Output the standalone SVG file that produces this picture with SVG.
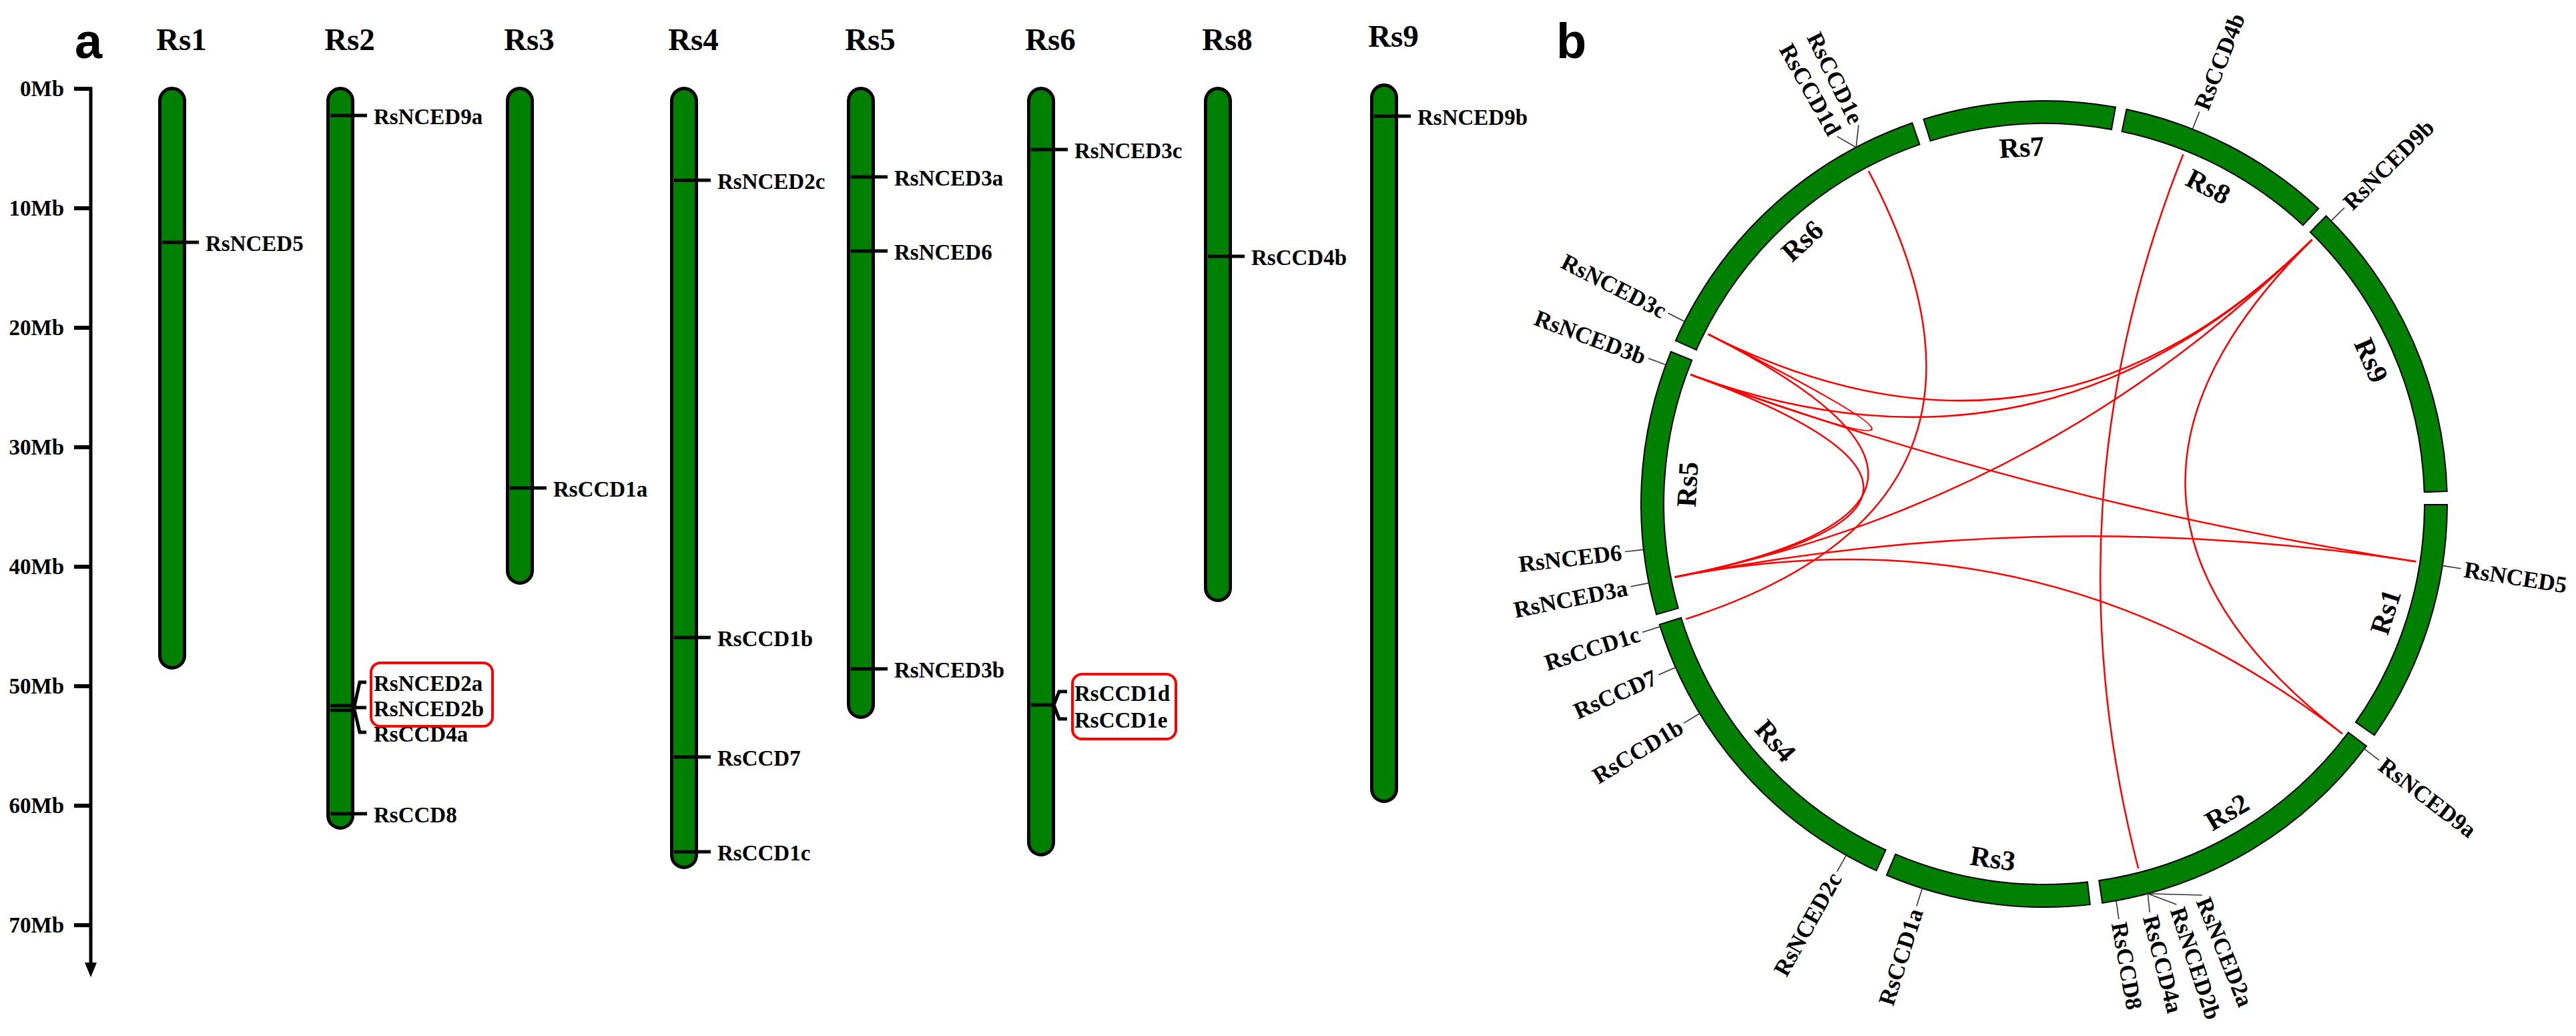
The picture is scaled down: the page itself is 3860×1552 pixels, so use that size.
<svg xmlns="http://www.w3.org/2000/svg" width="3860" height="1552" viewBox="0 0 3860 1552">
<style>
.bg{fill:#fff}
.chr{fill:#008000;stroke:#000;stroke-width:5}
.tick{stroke:#000;stroke-width:5;fill:none}
.t{font-family:'Liberation Serif','Times New Roman',serif;font-weight:bold;fill:#000}
.g{font-size:33px}
.ax{font-size:33px;text-anchor:end}
.cl{font-size:47px;text-anchor:middle}
.box{fill:none;stroke:#FF0000;stroke-width:4}
.panel{font-family:'Liberation Sans',Arial,sans-serif;font-weight:bold;font-size:74px;fill:#000}
.seg{fill:#008000;stroke:#000;stroke-width:2}
.link{fill:none;stroke:#FF0000;stroke-width:2.5}
.lead{stroke:#333;stroke-width:1.6;fill:none}
.cg{font-size:35px}
.rl{font-size:42px;text-anchor:middle}
</style>
<rect class="bg" x="0" y="0" width="3860" height="1552"/>
<text class="panel" x="112" y="87">a</text>
<text class="panel" x="2332" y="87">b</text>

<g id="axis">
<line class="tick" x1="136" y1="131" x2="136" y2="1448"/>
<polygon points="127,1442 145,1442 136,1464" fill="#000"/>
<g stroke="#000" stroke-width="6">
<line x1="111" y1="133" x2="138" y2="133"/>
<line x1="111" y1="312" x2="136" y2="312"/>
<line x1="111" y1="491" x2="136" y2="491"/>
<line x1="111" y1="670" x2="136" y2="670"/>
<line x1="111" y1="849" x2="136" y2="849"/>
<line x1="111" y1="1028" x2="136" y2="1028"/>
<line x1="111" y1="1207" x2="136" y2="1207"/>
<line x1="111" y1="1386" x2="136" y2="1386"/>
</g>
<text class="t ax" x="96" y="144">0Mb</text>
<text class="t ax" x="96" y="323">10Mb</text>
<text class="t ax" x="96" y="502">20Mb</text>
<text class="t ax" x="96" y="681">30Mb</text>
<text class="t ax" x="96" y="860">40Mb</text>
<text class="t ax" x="96" y="1039">50Mb</text>
<text class="t ax" x="96" y="1218">60Mb</text>
<text class="t ax" x="96" y="1397">70Mb</text>
</g>

<g id="chrA-Rs1">
<text class="t cl" x="272" y="75">Rs1</text>
<rect class="chr" x="239.5" y="132.5" width="37" height="868" rx="18.5"/>
<line class="tick" x1="243" y1="363" x2="298" y2="363"/>
<text class="t g" x="308" y="376">RsNCED5</text>
</g>

<g id="chrA-Rs2">
<text class="t cl" x="524" y="75">Rs2</text>
<rect class="chr" x="491.5" y="132.5" width="37" height="1108" rx="18.5"/>
<line class="tick" x1="495" y1="173" x2="550" y2="173"/>
<text class="t g" x="560" y="186">RsNCED9a</text>
<line class="tick" x1="495" y1="1057" x2="531" y2="1057" stroke-width="4"/>
<line class="tick" x1="495" y1="1064" x2="531" y2="1064" stroke-width="4"/>
<path class="tick" stroke-width="4" d="M531,1058 L539,1022 L549,1022 M531,1060 L549,1060 M531,1063 L539,1097 L549,1097"/>
<text class="t g" x="560" y="1035">RsNCED2a</text>
<text class="t g" x="560" y="1073">RsNCED2b</text>
<text class="t g" x="560" y="1111">RsCCD4a</text>
<rect class="box" x="556" y="993" width="182" height="95" rx="14"/>
<line class="tick" x1="495" y1="1219" x2="550" y2="1219"/>
<text class="t g" x="560" y="1232">RsCCD8</text>
</g>

<g id="chrA-Rs3">
<text class="t cl" x="793" y="75">Rs3</text>
<rect class="chr" x="760.5" y="132.5" width="37" height="741" rx="18.5"/>
<line class="tick" x1="764" y1="731" x2="819" y2="731"/>
<text class="t g" x="829" y="744">RsCCD1a</text>
</g>

<g id="chrA-Rs4">
<text class="t cl" x="1039" y="75">Rs4</text>
<rect class="chr" x="1006.5" y="132.5" width="37" height="1167" rx="18.5"/>
<line class="tick" x1="1010" y1="270" x2="1065" y2="270"/>
<text class="t g" x="1075" y="283">RsNCED2c</text>
<line class="tick" x1="1010" y1="955" x2="1065" y2="955"/>
<text class="t g" x="1075" y="968">RsCCD1b</text>
<line class="tick" x1="1010" y1="1134" x2="1065" y2="1134"/>
<text class="t g" x="1075" y="1147">RsCCD7</text>
<line class="tick" x1="1010" y1="1276" x2="1065" y2="1276"/>
<text class="t g" x="1075" y="1289">RsCCD1c</text>
</g>

<g id="chrA-Rs5">
<text class="t cl" x="1304" y="75">Rs5</text>
<rect class="chr" x="1271.5" y="132.5" width="37" height="942" rx="18.5"/>
<line class="tick" x1="1275" y1="265" x2="1330" y2="265"/>
<text class="t g" x="1340" y="278">RsNCED3a</text>
<line class="tick" x1="1275" y1="376" x2="1330" y2="376"/>
<text class="t g" x="1340" y="389">RsNCED6</text>
<line class="tick" x1="1275" y1="1002" x2="1330" y2="1002"/>
<text class="t g" x="1340" y="1015">RsNCED3b</text>
</g>

<g id="chrA-Rs6">
<text class="t cl" x="1574" y="75">Rs6</text>
<rect class="chr" x="1541.5" y="132.5" width="37" height="1148" rx="18.5"/>
<line class="tick" x1="1545" y1="224" x2="1600" y2="224"/>
<text class="t g" x="1610" y="237">RsNCED3c</text>
<line class="tick" x1="1545" y1="1056" x2="1580" y2="1056" stroke-width="4"/>
<path class="tick" stroke-width="4" d="M1579,1056 L1587,1036 L1599,1036 M1579,1056 L1587,1077 L1599,1077"/>
<text class="t g" x="1610" y="1050">RsCCD1d</text>
<text class="t g" x="1610" y="1090">RsCCD1e</text>
<rect class="box" x="1607" y="1010" width="155" height="97" rx="14"/>
</g>

<g id="chrA-Rs8">
<text class="t cl" x="1839" y="75">Rs8</text>
<rect class="chr" x="1806.5" y="132.5" width="37" height="767" rx="18.5"/>
<line class="tick" x1="1810" y1="384" x2="1865" y2="384"/>
<text class="t g" x="1875" y="397">RsCCD4b</text>
</g>

<g id="chrA-Rs9">
<text class="t cl" x="2088" y="70">Rs9</text>
<rect class="chr" x="2055.5" y="127.5" width="37" height="1073" rx="18.5"/>
<line class="tick" x1="2059" y1="174" x2="2114" y2="174"/>
<text class="t g" x="2124" y="187">RsNCED9b</text>
</g>

<g id="connectors">
<path class="link" d="M2559.58,500.70 Q3063,755 3464.58,358.99"/>
<path class="link" d="M2533.35,561.18 Q3063,755 3464.58,358.99"/>
<path class="link" d="M2509.74,864.55 Q3063,755 3464.58,358.99"/>
<path class="link" d="M3509.85,1099.12 Q3063,755 3464.58,358.99"/>
<path class="link" d="M2559.58,500.70 Q3063,755 2533.35,561.18"/>
<path class="link" d="M2559.58,500.70 Q3063,755 2509.74,864.55"/>
<path class="link" d="M2533.35,561.18 Q3063,755 2509.74,864.55"/>
<path class="link" d="M2533.35,561.18 Q3063,755 3620.36,841.28"/>
<path class="link" d="M2509.74,864.55 Q3063,755 3620.36,841.28"/>
<path class="link" d="M2509.74,864.55 Q3063,755 3509.85,1099.12"/>
<path class="link" stroke-width="2" d="M2799.96,256.10 Q3063,755 2526.00,927.41"/>
<path class="link" stroke-width="1.5" d="M3271.54,230.97 Q3063,755 3204.21,1301.04"/>
</g>

<g id="chrB-Rs1">
<path class="seg" d="M3667.00,756.05 A604,604 0 0 1 3557.77,1101.44 L3529.92,1081.94 A570,570 0 0 0 3633.00,756.00 Z"/>
<text class="t rl" transform="translate(3574.04,916.67) rotate(-72.45)" dy="0.35em">Rs1</text>
</g>
<g id="chrB-Rs2">
<path class="seg" d="M3546.01,1117.65 A604,604 0 0 1 3150.19,1352.67 L3145.28,1319.03 A570,570 0 0 0 3518.82,1097.24 Z"/>
<text class="t rl" transform="translate(3336.65,1215.88) rotate(-30.7)" dy="0.35em">Rs2</text>
</g>
<g id="chrB-Rs3">
<path class="seg" d="M3131.90,1355.06 A604,604 0 0 1 2827.00,1310.99 L2840.28,1279.69 A570,570 0 0 0 3128.02,1321.28 Z"/>
<text class="t rl" transform="translate(2986.32,1285.49) rotate(8.2)" dy="0.35em">Rs3</text>
</g>
<g id="chrB-Rs4">
<path class="seg" d="M2811.57,1304.18 A604,604 0 0 1 2486.64,935.62 L2519.08,925.45 A570,570 0 0 0 2825.72,1273.26 Z"/>
<text class="t rl" transform="translate(2660.94,1109.46) rotate(48.6)" dy="0.35em">Rs4</text>
</g>
<g id="chrB-Rs5">
<path class="seg" d="M2482.11,920.47 A604,604 0 0 1 2503.77,526.78 L2535.25,539.63 A570,570 0 0 0 2514.81,911.16 Z"/>
<text class="t rl" transform="translate(2527.81,725.55) rotate(-86.85)" dy="0.35em">Rs5</text>
</g>
<g id="chrB-Rs6">
<path class="seg" d="M2510.79,510.29 A604,604 0 0 1 2865.36,184.25 L2876.49,216.38 A570,570 0 0 0 2541.88,524.07 Z"/>
<text class="t rl" transform="translate(2700.19,360.45) rotate(-42.6)" dy="0.35em">Rs6</text>
</g>
<g id="chrB-Rs7">
<path class="seg" d="M2882.38,178.64 A604,604 0 0 1 3169.96,160.55 L3163.94,194.01 A570,570 0 0 0 2892.55,211.08 Z"/>
<text class="t rl" transform="translate(3029.34,220.06) rotate(-3.6)" dy="0.35em">Rs7</text>
</g>
<g id="chrB-Rs8">
<path class="seg" d="M3186.52,163.76 A604,604 0 0 1 3474.16,312.54 L3451.01,337.45 A570,570 0 0 0 3179.56,197.05 Z"/>
<text class="t rl" transform="translate(3309.25,278.92) rotate(27.35)" dy="0.35em">Rs8</text>
</g>
<g id="chrB-Rs9">
<path class="seg" d="M3485.60,323.46 A604,604 0 0 1 3666.70,736.03 L3632.72,737.10 A570,570 0 0 0 3461.81,347.75 Z"/>
<text class="t rl" transform="translate(3553.80,539.56) rotate(66.3)" dy="0.35em">Rs9</text>
</g>

<g id="geneLabelsB">
<path class="lead" d="M3285.35,193.42 L3295.66,167.38"/>
<text class="t cg" transform="translate(3297.50,162.73) rotate(-68.4)" dy="0.35em">RsCCD4b</text>
<path class="lead" d="M3493.06,330.90 L3513.00,311.24"/>
<text class="t cg" transform="translate(3516.56,307.73) rotate(-44.6)" dy="0.35em">RsNCED9b</text>
<path class="lead" d="M3659.89,847.40 L3687.56,851.69"/>
<text class="t cg" transform="translate(3692.50,852.45) rotate(8.8)" dy="0.35em">RsNCED5</text>
<path class="lead" d="M3542.83,1121.85 L3565.07,1138.86"/>
<text class="t cg" transform="translate(3569.04,1141.90) rotate(37.4)" dy="0.35em">RsNCED9a</text>
<path class="lead" d="M3218.31,1338.69 L3299.75,1340.98 M3218.31,1338.69 L3261.44,1355.04 M3218.31,1338.69 L3221.24,1366.87"/>
<text class="t cg" transform="translate(3301.62,1345.62) rotate(68.0)" dy="0.35em">RsNCED2a</text>
<text class="t cg" transform="translate(3263.01,1359.78) rotate(71.7)" dy="0.35em">RsNCED2b</text>
<text class="t cg" transform="translate(3222.49,1371.71) rotate(75.5)" dy="0.35em">RsCCD4a</text>
<path class="lead" d="M3171.00,1349.27 L3174.92,1377.01"/>
<text class="t cg" transform="translate(3175.80,1381.93) rotate(79.8)" dy="0.35em">RsCCD8</text>
<path class="lead" d="M2880.37,1330.73 L2871.90,1357.42"/>
<text class="t cg" text-anchor="end" transform="translate(2870.39,1362.18) rotate(-72.4)" dy="0.35em">RsCCD1a</text>
<path class="lead" d="M2766.49,1281.21 L2752.75,1305.61"/>
<text class="t cg" text-anchor="end" transform="translate(2750.29,1309.96) rotate(-60.6)" dy="0.35em">RsNCED2c</text>
<path class="lead" d="M2546.91,1068.79 L2522.98,1083.34"/>
<text class="t cg" text-anchor="end" transform="translate(2518.71,1085.93) rotate(-31.3)" dy="0.35em">RsCCD1b</text>
<path class="lead" d="M2510.79,999.71 L2485.19,1011.05"/>
<text class="t cg" text-anchor="end" transform="translate(2480.62,1013.08) rotate(-23.9)" dy="0.35em">RsCCD7</text>
<path class="lead" d="M2487.59,938.64 L2460.92,947.15"/>
<text class="t cg" text-anchor="end" transform="translate(2456.16,948.67) rotate(-17.7)" dy="0.35em">RsCCD1c</text>
<path class="lead" d="M2470.71,873.35 L2443.25,878.84"/>
<text class="t cg" text-anchor="end" transform="translate(2438.35,879.82) rotate(-11.3)" dy="0.35em">RsNCED3a</text>
<path class="lead" d="M2462.88,823.37 L2435.06,826.54"/>
<text class="t cg" text-anchor="end" transform="translate(2430.09,827.11) rotate(-6.5)" dy="0.35em">RsNCED6</text>
<path class="lead" d="M2496.15,546.44 L2469.87,536.77"/>
<text class="t cg" text-anchor="end" transform="translate(2465.18,535.04) rotate(20.2)" dy="0.35em">RsNCED3b</text>
<path class="lead" d="M2524.35,481.73 L2499.38,469.06"/>
<text class="t cg" text-anchor="end" transform="translate(2494.92,466.80) rotate(26.9)" dy="0.35em">RsNCED3c</text>
<path class="lead" d="M2781.30,220.71 L2752.75,204.39 M2781.30,220.71 L2784.96,187.45"/>
<text class="t cg" text-anchor="end" transform="translate(2750.29,200.04) rotate(60.6)" dy="0.35em">RsCCD1d</text>
<text class="t cg" text-anchor="end" transform="translate(2782.76,182.96) rotate(63.9)" dy="0.35em">RsCCD1e</text>
</g>
</svg>
